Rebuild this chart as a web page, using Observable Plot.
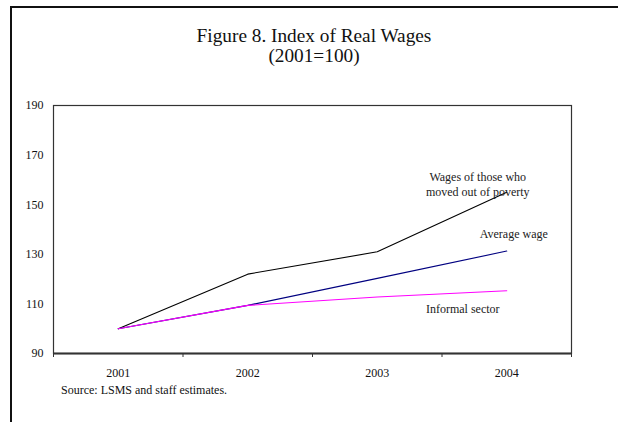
<!DOCTYPE html>
<html>
<head>
<meta charset="utf-8">
<script src="https://cdn.jsdelivr.net/npm/d3@7"></script>
<script src="https://cdn.jsdelivr.net/npm/@observablehq/plot@0.6"></script>
<style>
  html, body { margin: 0; padding: 0; background: #fff; }
  #wrap { position: relative; width: 618px; height: 422px; overflow: hidden; font-family: "Liberation Serif", "Times New Roman", serif; color: #111; }
  #border { position: absolute; left: 10px; top: 6px; width: 700px; height: 500px; border-left: 2px solid #111; border-top: 2px solid #111; }
  #title { position: absolute; left: 5px; width: 618px; top: 26px; text-align: center; font-size: 19.3px; line-height: 20px; }
  #source { position: absolute; left: 61px; top: 383px; font-size: 12px; }
  #chart { position: absolute; left: 0; top: 0; }
</style>
</head>
<body>
<div id="wrap">
  <div id="border"></div>
  <div id="chart"></div>
  <div id="title">Figure 8. Index of Real Wages<br>(2001=100)</div>
  <div id="source">Source: LSMS and staff estimates.</div>
</div>
<script>
const years = [2001, 2002, 2003, 2004];
const movedOutOfPoverty = [100, 122, 131, 155];
const averageWage = [100, 109.4, 120.3, 131.3];
const informalSector = [100, 109.4, 112.8, 115.3];
const yTicks = [90, 110, 130, 150, 170, 190];
const bandEdges = [2000.5, 2001.5, 2002.5, 2003.5, 2004.5];

const seriesNames = ["Wages of those who\nmoved out of poverty", "Average wage", "Informal sector"];
const seriesValues = [movedOutOfPoverty, averageWage, informalSector];
const seriesColors = ["#000000", "#000080", "#ff00ff"];

const rows = seriesNames.flatMap((name, i) =>
  years.map((year, j) => ({ series: name, year, value: seriesValues[i][j] }))
);
const last = seriesNames.map((name, i) => ({ series: name, year: years[years.length - 1], value: seriesValues[i][years.length - 1] }));

const chart = Plot.plot({
  width: 618,
  height: 422,
  marginLeft: 53,
  marginRight: 47,
  marginTop: 105,
  marginBottom: 69,
  style: { fontFamily: "Liberation Serif, Times New Roman, serif", fontSize: "12px", background: "transparent", color: "#111" },
  x: { domain: [2000.5, 2004.5] },
  y: { domain: [90, 190] },
  color: { domain: seriesNames, range: seriesColors },
  marks: [
    Plot.frame({ stroke: "#333", strokeWidth: 1.2 }),
    Plot.ruleY([90], { stroke: "#333", strokeWidth: 2 }),
    Plot.axisX({ ticks: bandEdges, tickFormat: () => "", tickSize: 4, stroke: "#333", label: null }),
    Plot.axisX({ ticks: years, tickFormat: d => String(d), tickSize: 0, tickPadding: 15, fontSize: 12, label: null }),
    Plot.axisY({ ticks: yTicks, tickSize: 0, tickPadding: 10, fontSize: 12, label: null }),
    Plot.line(rows, { x: "year", y: "value", z: "series", stroke: "series", strokeWidth: 1.1 }),
    Plot.text(last.slice(0, 1), { x: "year", y: "value", text: "series", dx: -29, dy: -9, fontSize: 12, lineHeight: 1.25, fill: "#222" }),
    Plot.text(last.slice(1, 2), { x: "year", y: "value", text: "series", dx: 7, dy: -17, fontSize: 12, fill: "#222" }),
    Plot.text(last.slice(2, 3), { x: "year", y: "value", text: "series", dx: -44, dy: 18, fontSize: 12, fill: "#222" })
  ]
});
document.getElementById("chart").appendChild(chart);
</script>
</body>
</html>
